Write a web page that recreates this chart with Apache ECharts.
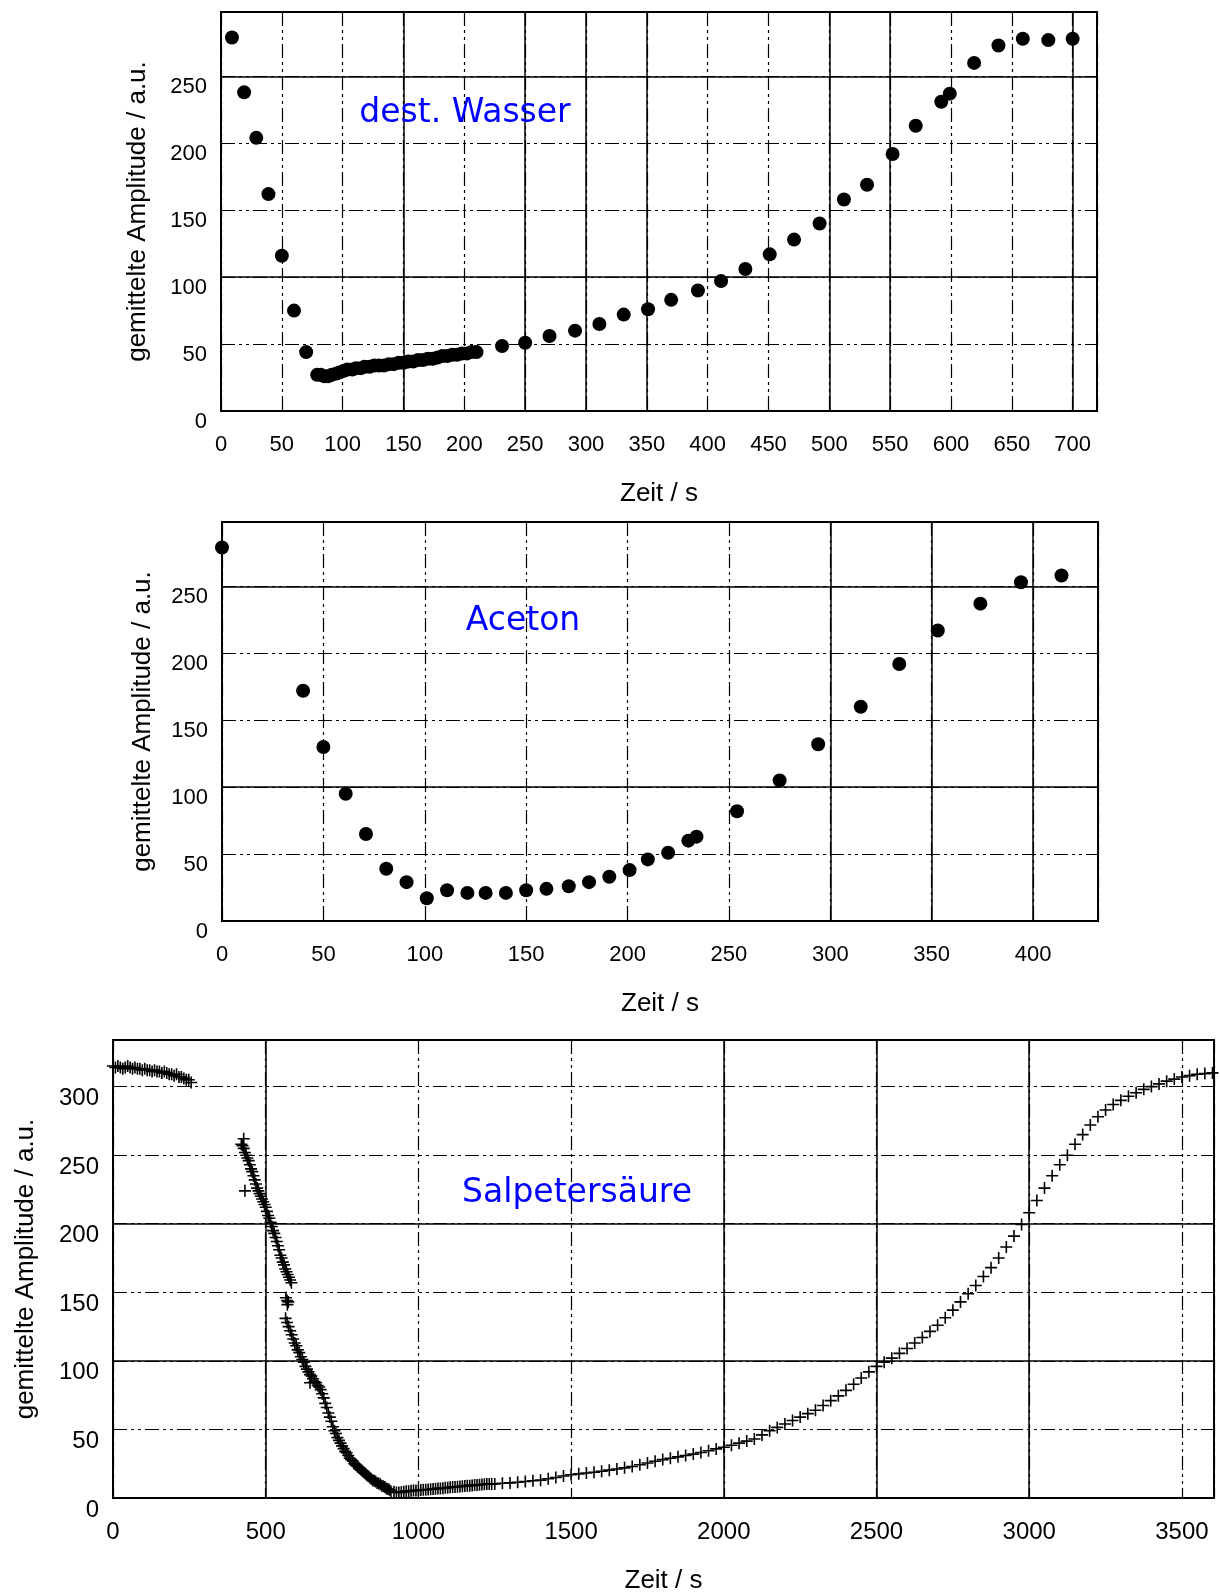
<!DOCTYPE html>
<html>
<head>
<meta charset="utf-8">
<script src="https://cdn.jsdelivr.net/npm/echarts@6/dist/echarts.min.js"></script>
<style>
  html, body { margin: 0; padding: 0; background: #fff; }
  #container { width: 1220px; height: 1595px; }
</style>
</head>
<body>
<div id="container"></div>
<script>
// dest. Wasser
var waterT = [9, 19, 29, 39, 50, 60, 70, 79, 82, 85, 88, 91, 95, 98, 101, 104, 108, 111, 115, 118, 122, 126, 130, 134, 138, 142, 146, 150, 154, 158, 162, 166, 170, 174, 178, 182, 186, 190, 194, 198, 202, 206, 210, 231, 250, 270, 291, 311, 331, 351, 370, 392, 411, 431, 451, 471, 492, 512, 531, 552, 571, 592, 599, 619, 639, 659, 680, 700];
var waterA = [279, 238, 204, 162, 116, 75, 44, 27, 27, 26, 26, 27, 28, 29, 30, 31, 31, 32, 32, 33, 33, 34, 34, 34, 35, 35, 36, 36, 37, 37, 38, 38, 39, 39, 40, 41, 41, 42, 42, 43, 43, 44, 44, 48.5, 51, 56, 60, 65, 72, 76, 83, 90, 97, 106, 117, 128, 140, 158, 169, 192, 213, 231, 237, 260, 273, 278, 277, 278];

// Aceton
var acetonT = [0, 40, 50, 61, 71, 81, 91, 101, 111, 121, 130, 140, 150, 160, 171, 181, 191, 201, 210, 220, 230, 234, 254, 275, 294, 315, 334, 353, 374, 394, 414];
var acetonA = [279, 172, 130, 95, 65, 39, 29, 17, 23, 21, 21, 21, 23, 24, 26, 29, 33, 38, 46, 51, 60, 63, 82, 105, 132, 160, 192, 217, 237, 253, 258];

// Salpetersaeure, in Abschnitten
var acidTopT = [0, 8, 16, 24, 32, 40, 48, 56, 64, 72, 80, 88, 96, 104, 112, 120, 128, 136, 144, 152, 160, 168, 176, 184, 192, 200, 208, 216, 224, 232, 240, 248, 256];
var acidTopA = [315, 314, 315, 314, 313, 314, 315, 314, 313, 314, 313, 313, 312, 313, 312, 312, 311, 312, 311, 311, 310, 311, 310, 309, 309, 308, 309, 307, 307, 306, 305, 305, 303];

var acidFall1T = [420, 424, 428, 432, 436, 440, 444, 448, 452, 456, 460, 464, 468, 472, 476, 480, 484, 488, 492, 496, 500, 504, 508, 512, 516, 520, 524, 528, 532, 536, 540, 544, 548, 552, 556, 560, 564, 568, 572, 576, 580, 584, 428, 432, 566, 570, 574, 571];
var acidFall1A = [258, 257, 255, 252, 250, 248, 246, 243, 240, 238, 235, 232, 229, 226, 224, 222, 220, 218, 216, 214, 212, 209, 206, 204, 201, 198, 195, 193, 190, 187, 184, 181, 177, 175, 172, 170, 167, 165, 163, 161, 159, 157, 262, 224, 146, 144, 143, 141];

var acidFall2T = [565, 570, 575, 580, 585, 590, 595, 600, 605, 610, 615, 620, 625, 630, 635, 640, 645, 650, 655, 660, 665, 670, 675, 680, 685, 690, 695, 700, 705, 710, 715, 720, 725, 730, 735, 740, 745, 750, 755, 760, 765, 770, 775, 780, 785, 790, 795, 800, 805, 810, 815, 820, 825, 830, 835, 840, 845, 850, 855, 860, 865, 870, 875, 880, 885, 890, 895, 900, 905, 910, 645];
var acidFall2A = [131, 128, 125, 122, 119, 116, 113, 111, 108, 106, 103, 101, 99, 96, 94, 92, 90, 89, 87, 85, 84, 82, 81, 79, 76, 73, 69, 66, 62, 59, 56, 52, 49, 47, 44, 42, 40, 38, 36, 34, 33, 31, 29, 28, 27, 25, 24, 23, 22, 21, 20, 19, 18, 17, 16, 15, 14, 13, 12.5, 12, 11, 10.5, 10, 9, 8.5, 8, 7, 6.5, 6, 5, 84];

var acidFlatT = [920, 928, 936, 944, 952, 960, 968, 976, 984, 992, 1000, 1008, 1016, 1024, 1032, 1040, 1048, 1056, 1064, 1072, 1080, 1088, 1096, 1104, 1112, 1120, 1128, 1136, 1144, 1152, 1160, 1168, 1176, 1184, 1192, 1200, 1208, 1216, 1224, 1232, 1240];
var acidFlatA = [4.5, 4, 4, 4.2, 4.5, 5, 5, 5.2, 5.4, 5.5, 5.6, 5.8, 6, 6, 6.2, 6.4, 6.5, 6.7, 7, 7, 7.2, 7.4, 7.5, 7.8, 8, 8, 8.2, 8.4, 8.6, 8.8, 9, 9, 9.2, 9.4, 9.5, 9.6, 9.8, 10, 10.2, 10.2, 10.3];

var acidRiseT = [1250, 1275, 1300, 1325, 1350, 1375, 1400, 1425, 1450, 1475, 1500, 1525, 1550, 1575, 1600, 1625, 1650, 1675, 1700, 1725, 1750, 1775, 1800, 1825, 1850, 1875, 1900, 1925, 1950, 1975, 2000, 2025, 2050, 2075, 2100, 2125, 2150, 2175, 2200, 2225, 2250, 2275, 2300, 2325, 2350, 2375, 2400, 2425, 2450, 2475, 2500, 2525, 2550, 2575, 2600, 2625, 2650, 2675, 2700, 2725, 2750, 2775, 2800, 2825, 2850, 2875, 2900, 2925, 2950, 2975, 3000, 3025, 3050, 3075, 3100, 3125, 3150, 3175, 3200, 3225, 3250, 3275, 3300, 3325, 3350, 3375, 3400, 3425, 3450, 3475, 3500, 3525, 3550, 3575, 3600];
var acidRiseA = [10.2, 10.8, 11, 11.5, 12, 12.6, 13, 14, 15, 16, 17, 17.6, 18.2, 18.8, 19.5, 20.3, 21.2, 22, 23, 24.2, 25.5, 26.8, 28, 29, 30, 31, 32, 33.2, 34.5, 35.8, 37, 38.5, 40, 41.5, 43, 46, 49, 51.5, 54, 56.5, 59, 61.5, 64, 67.5, 71, 74.5, 78.5, 83, 87.5, 92, 96, 99, 102, 105.5, 109, 113, 117, 121.5, 126, 131.5, 137, 143, 149, 155, 161.5, 168, 175, 183, 191, 199.5, 208, 217, 226, 235, 243, 250, 258, 265, 272, 278, 283, 287, 290, 293, 295.5, 298, 300, 302, 304, 305.5, 307, 308, 309, 309.5, 310];

// Gitterlinien, die im Original durchgezogen sind (Rest strichpunktiert)
var solidX = [[150, 250, 300, 350, 500, 550, 700], [300, 350, 400], [500, 2000, 2500, 3000]];
var solidY = [[250, 100], [250, 100], [200, 100]];

function pairs(xs, ys) {
  return xs.map((x, i) => [x, ys[i]]);
}

var acidT = [].concat(acidTopT, acidFall1T, acidFall2T, acidFlatT, acidRiseT);
var acidA = [].concat(acidTopA, acidFall1A, acidFall2A, acidFlatA, acidRiseA);

var dom = document.getElementById("container");
var myChart = echarts.init(dom, null, { renderer: 'canvas' });

var tickFont = 'Liberation Sans';
var dashDot = [14, 4, 3, 4, 3, 4];

function makeX(idx, max, interval, fontSize, margin) {
  return {
    gridIndex: idx,
    type: 'value',
    min: 0,
    max: max,
    interval: interval,
    name: 'Zeit / s',
    nameLocation: 'middle',
    nameGap: 70,
    nameTextStyle: { fontFamily: tickFont, fontSize: 26, color: '#000' },
    axisLine: { show: false },
    axisTick: { show: false },
    axisLabel: {
      fontFamily: tickFont,
      fontSize: fontSize,
      color: '#000',
      margin: margin,
      formatter: v => (v % interval === 0 ? String(v) : '')
    },
    splitLine: { show: true, lineStyle: { color: '#000', width: 1.2, type: dashDot } }
  };
}

function makeY(idx, max, fontSize, nameGap) {
  return {
    gridIndex: idx,
    type: 'value',
    min: 0,
    max: max,
    interval: 50,
    name: 'gemittelte Amplitude / a.u.',
    nameLocation: 'middle',
    nameGap: nameGap,
    nameTextStyle: { fontFamily: tickFont, fontSize: 26, color: '#000' },
    axisLine: { show: false },
    axisTick: { show: false },
    axisLabel: {
      fontFamily: tickFont,
      fontSize: fontSize,
      color: '#000',
      margin: 14,
      verticalAlign: 'top',
      formatter: v => (v % 50 === 0 ? String(v) : '')
    },
    splitLine: { show: true, lineStyle: { color: '#000', width: 1.2, type: dashDot } }
  };
}

function solidLines(i) {
  return {
    silent: true,
    symbol: ['none', 'none'],
    label: { show: false },
    animation: false,
    lineStyle: { color: '#000', width: 1.5, type: 'solid', opacity: 1 },
    data: solidX[i].map(v => ({ xAxis: v })).concat(solidY[i].map(v => ({ yAxis: v })))
  };
}

function titleText(text, x, y) {
  return {
    type: 'text',
    x: x,
    y: y,
    z: 100,
    style: {
      text: text,
      fill: '#0000ff',
      font: '33px "DejaVu Sans"',
      align: 'center',
      verticalAlign: 'middle',
      textAlign: 'center',
      textVerticalAlign: 'middle'
    }
  };
}

var crossPath = 'path://M0,5 L10,5 M5,0 L5,10';

var option = {
  backgroundColor: '#fff',
  animation: false,
  grid: [
    { left: 221, top: 12, width: 876, height: 399, show: true, borderColor: '#000', borderWidth: 2, backgroundColor: 'transparent' },
    { left: 222, top: 522, width: 876, height: 399, show: true, borderColor: '#000', borderWidth: 2, backgroundColor: 'transparent' },
    { left: 113, top: 1040, width: 1101, height: 459, show: true, borderColor: '#000', borderWidth: 2, backgroundColor: 'transparent' }
  ],
  xAxis: [
    makeX(0, 720, 50, 22, 23),
    makeX(1, 432, 50, 22, 23),
    makeX(2, 3605, 500, 24, 22)
  ],
  yAxis: [
    makeY(0, 298, 22, 70),
    makeY(1, 298, 22, 66),
    makeY(2, 334, 24, 74)
  ],
  graphic: [
    titleText('dest. Wasser', 465, 113),
    titleText('Aceton', 523, 621),
    titleText('Salpetersäure', 577, 1193)
  ],
  series: [
    {
      type: 'scatter',
      xAxisIndex: 0,
      yAxisIndex: 0,
      symbol: 'circle',
      symbolSize: 14,
      itemStyle: { color: '#000', opacity: 1 },
      data: pairs(waterT, waterA),
      markLine: solidLines(0)
    },
    {
      type: 'scatter',
      xAxisIndex: 1,
      yAxisIndex: 1,
      symbol: 'circle',
      symbolSize: 14,
      itemStyle: { color: '#000', opacity: 1 },
      data: pairs(acetonT, acetonA),
      markLine: solidLines(1)
    },
    {
      type: 'scatter',
      xAxisIndex: 2,
      yAxisIndex: 2,
      symbol: crossPath,
      symbolSize: 12,
      itemStyle: { color: 'none', borderColor: '#000', borderWidth: 1.6, opacity: 1 },
      data: pairs(acidT, acidA),
      markLine: solidLines(2)
    }
  ]
};

myChart.setOption(option);
window.onresize = function() {
  myChart.resize();
};
</script>
</body>
</html>
